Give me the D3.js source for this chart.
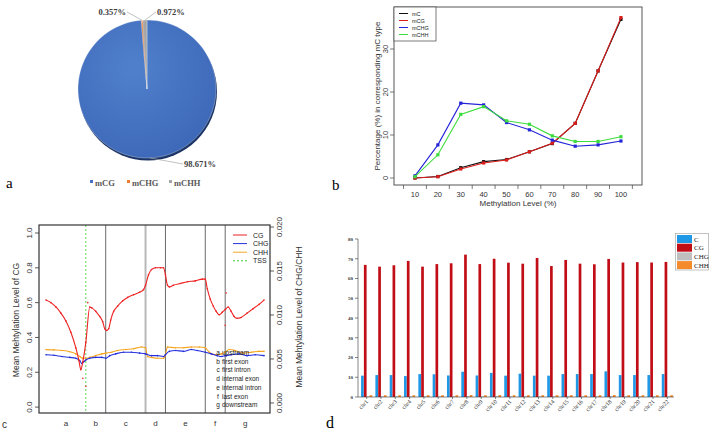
<!DOCTYPE html>
<html><head><meta charset="utf-8">
<script src="https://cdn.jsdelivr.net/npm/d3@7"></script>
<style>body{margin:0;background:#fff} svg{display:block}</style>
</head><body>
<svg id="fig" width="711" height="431"></svg>
<script>
// ---------- data ----------
// a: share of methylated C by context (%)
var pieLabels = ['mCG', 'mCHG', 'mCHH'];
var pieValues = [98.671, 0.357, 0.972];

// b: percentage per methylation level bin
var levels = [10, 20, 30, 40, 50, 60, 70, 80, 90, 100];
var bSeries = ['mC', 'mCG', 'mCHG', 'mCHH'];
var mC   = [0.0, 0.35, 2.4, 3.8, 4.3, 6.1, 8.0, 12.7, 24.9, 36.9];
var mCG  = [0.0, 0.3, 2.1, 3.5, 4.2, 6.1, 8.1, 12.7, 24.9, 37.3];
var mCHG = [0.5, 7.7, 17.4, 17.0, 12.9, 11.2, 8.8, 7.4, 7.7, 8.6];
var mCHH = [0.3, 5.4, 14.8, 16.6, 13.3, 12.5, 9.8, 8.5, 8.5, 9.6];

// c: methylation over gene regions (position in bins, value)
var regions = ['a', 'b', 'c', 'd', 'e', 'f', 'g'];
var regionNames = ['upstream', 'first exon', 'first intron', 'internal exon', 'internal intron', 'last exon', 'downstream'];
var regionBreaks = [0, 40, 60, 100, 120, 160, 180, 220];
var cgLine = [[0,0.615],[5,0.60],[10,0.575],[15,0.54],[20,0.495],[25,0.43],[30,0.34],[33,0.27],[35,0.215],[37,0.26],[40,0.37],[44,0.575],
  [46,0.57],[50,0.55],[54,0.52],[57,0.49],[59,0.45],[61,0.44],[63,0.45],[65,0.50],[68,0.55],[72,0.58],[77,0.61],[82,0.63],[88,0.645],
  [94,0.66],[98,0.675],[100,0.70],[103,0.76],[106,0.79],[110,0.80],[115,0.80],[118,0.80],[120,0.76],[122,0.70],[124,0.69],[128,0.70],
  [135,0.71],[142,0.72],[150,0.725],[157,0.735],[160,0.735],[162,0.68],[165,0.62],[168,0.58],[171,0.55],[174,0.53],[177,0.545],
  [180,0.56],[183,0.575],[186,0.55],[189,0.52],[192,0.51],[196,0.515],[202,0.54],[208,0.565],[214,0.59],[219,0.615]];
var cgOutliers = [[37,0.165],[40,0.12],[42,0.60],[180,0.47],[181,0.655]];
var chgLine = [[0,0.00548],[8,0.00542],[16,0.00528],[24,0.00518],[30,0.00508],[34,0.00479],[36,0.00449],[38,0.00469],[40,0.00488],
  [44,0.00508],[50,0.00518],[56,0.00518],[60,0.00508],[64,0.00538],[70,0.00558],[78,0.00577],[86,0.00577],[94,0.00567],[100,0.00558],
  [106,0.00538],[112,0.00538],[118,0.00528],[120,0.00548],[124,0.00587],[130,0.00597],[138,0.00587],[146,0.00607],[152,0.00597],
  [160,0.00577],[166,0.00558],[172,0.00538],[176,0.00528],[180,0.00538],[186,0.00548],[194,0.00558],[202,0.00538],[210,0.00548],[219,0.00538]];
var chhLine = [[0,0.00607],[8,0.00603],[16,0.00597],[24,0.00583],[30,0.00558],[34,0.00528],[37,0.00508],[40,0.00508],[44,0.00518],
  [50,0.00538],[56,0.00558],[60,0.00567],[66,0.00577],[72,0.00597],[80,0.00607],[88,0.00617],[96,0.00637],[100,0.00627],[102,0.00528],
  [106,0.00518],[112,0.00508],[118,0.00508],[120,0.00548],[122,0.00637],[130,0.00627],[138,0.00627],[146,0.00637],[154,0.00637],
  [160,0.00627],[164,0.00577],[170,0.00548],[176,0.00558],[180,0.00577],[184,0.00607],[190,0.00597],[198,0.00567],[206,0.00577],
  [214,0.00587],[219,0.00587]];

// d: per-chromosome methylation level (%)
var chrs = ['chr1','chr2','chr3','chr4','chr5','chr6','chr7','chr8','chr9','chr10','chr11','chr12','chr13','chr14','chr15','chr16',
  'chr17','chr18','chr19','chr20','chr21','chr22'];
var dSeries = ['C', 'CG', 'CHG', 'CHH'];
var chrC   = [10.8, 11.1, 11.1, 10.6, 11.6, 11.5, 10.9, 12.8, 10.9, 12.2, 10.8, 11.8, 10.8, 10.8, 11.6, 11.6, 11.6, 13.0, 11.1, 11.1, 11.1, 11.6];
var chrCG  = [66.9, 66.0, 66.7, 68.9, 66.0, 67.3, 67.7, 72.1, 67.3, 70.0, 68.0, 67.5, 70.4, 66.3, 69.4, 67.5, 67.2, 69.9, 68.1, 68.3, 68.1, 68.4];
var chrCHG = [0.4, 0.4, 0.4, 0.4, 0.4, 0.4, 0.4, 0.5, 0.4, 0.5, 0.4, 0.4, 0.4, 0.4, 0.4, 0.4, 0.4, 0.5, 0.4, 0.4, 0.4, 0.4];
var chrCHH = [0.9, 0.9, 0.9, 0.9, 0.9, 0.9, 0.9, 1.0, 0.9, 1.0, 0.9, 0.9, 0.9, 0.9, 0.9, 0.9, 0.9, 1.0, 0.9, 0.9, 0.9, 0.9];

var svg = d3.select('#fig');
svg.append('rect').attr('width', 711).attr('height', 431).attr('fill', '#fff');
var serif = '"Liberation Serif", "DejaVu Serif", serif';
var sans = '"Liberation Sans", Arial, sans-serif';

// ---------- a: pie ----------
var pa = svg.append('g');
var pieColors = ['#4472C4', '#ED7D31', '#A5A5A5'];
var cx = 147, cy = 89, rad = 69;
var grad = svg.append('defs').append('radialGradient').attr('id', 'pg').attr('cx', '40%').attr('cy', '35%').attr('r', '70%');
grad.append('stop').attr('offset', '0%').attr('stop-color', '#5080cc');
grad.append('stop').attr('offset', '100%').attr('stop-color', '#3d68b8');
pa.append('ellipse').attr('cx', cx + 1).attr('cy', cy + 2.5).attr('rx', rad).attr('ry', rad).attr('fill', '#1c3566');
var arcs = d3.pie().sort(null).value(function(d) { return d; })(pieValues);
var arc = d3.arc().innerRadius(0).outerRadius(rad);
var edge = d3.arc().innerRadius(rad).outerRadius(rad);
pa.selectAll('path.sl').data(arcs).join('path')
  .attr('transform', 'translate(' + cx + ',' + cy + ')')
  .attr('d', arc)
  .attr('fill', function(d, i) { return i === 0 ? 'url(#pg)' : pieColors[i]; })
  .attr('stroke', '#fff').attr('stroke-width', 0.3);
// data labels
var labelPos = [[200, 166, 'start'], [126, 14, 'end'], [157, 14, 'start']];
arcs.forEach(function(d, i) {
  var c = edge.centroid(d);
  var lp = labelPos[i];
  pa.append('line').attr('x1', cx + c[0]).attr('y1', cy + c[1])
    .attr('x2', i === 0 ? 183 : lp[0] + (i === 1 ? 1 : -1)).attr('y2', i === 0 ? 164 : lp[1] - 2)
    .attr('stroke', '#a6a6a6').attr('stroke-width', 0.7);
  pa.append('text').attr('x', i === 0 ? 184 : lp[0]).attr('y', lp[1] + 1)
    .attr('text-anchor', i === 0 ? 'start' : lp[2])
    .attr('font-family', serif).attr('font-weight', 'bold').attr('font-size', 8.5).attr('fill', '#404040')
    .text(d3.format('.3f')(pieValues[i]) + '%');
});
var legX = [90, 127, 169];
pieLabels.forEach(function(l, i) {
  pa.append('rect').attr('x', legX[i]).attr('y', 180).attr('width', 3).attr('height', 3).attr('fill', pieColors[i]);
  pa.append('text').attr('x', legX[i] + 5).attr('y', 185.5).attr('font-family', serif).attr('font-weight', 'bold')
    .attr('font-size', 8.5).attr('fill', '#595959').text(l);
});
svg.append('text').attr('x', 6).attr('y', 188).attr('font-family', serif).attr('font-size', 15).text('a');

// ---------- b: line chart ----------
var pb = svg.append('g');
var xb = d3.scaleLinear().domain([0.83, 109.2]).range([394, 642]);
var yb = d3.scaleLinear().domain([-1.63, 39.77]).range([185, 7]);
pb.append('rect').attr('x', 394).attr('y', 7).attr('width', 248).attr('height', 178)
  .attr('fill', 'none').attr('stroke', '#444').attr('stroke-width', 0.9);
var xTicksB = [5, 15, 25, 35, 45, 55, 65, 75, 85, 95, 105];
pb.selectAll('line.xt').data(xTicksB).join('line')
  .attr('x1', xb).attr('x2', xb).attr('y1', 185).attr('y2', 189).attr('stroke', '#444').attr('stroke-width', 0.7);
pb.selectAll('text.xl').data(levels).join('text')
  .attr('x', xb).attr('y', 197).attr('text-anchor', 'middle')
  .attr('font-family', sans).attr('font-size', 7.5).attr('fill', '#333').text(function(d) { return d; });
var yTicksB = [0, 10, 20, 30];
pb.selectAll('line.yt').data(yTicksB).join('line')
  .attr('x1', 390).attr('x2', 394).attr('y1', yb).attr('y2', yb).attr('stroke', '#444').attr('stroke-width', 0.7);
pb.selectAll('text.yl').data(yTicksB).join('text')
  .attr('transform', function(d) { return 'translate(388,' + yb(d) + ') rotate(-90)'; })
  .attr('text-anchor', 'middle').attr('font-family', sans).attr('font-size', 7.5).attr('fill', '#333')
  .text(function(d) { return d; });
pb.append('text').attr('x', 518).attr('y', 206).attr('text-anchor', 'middle')
  .attr('font-family', sans).attr('font-size', 8).attr('fill', '#333').text('Methylation Level (%)');
pb.append('text').attr('transform', 'translate(380,96) rotate(-90)').attr('text-anchor', 'middle')
  .attr('font-family', sans).attr('font-size', 8).attr('fill', '#333').text('Percentage (%) in corresponding mC type');
var bColors = ['#111', '#dd1c1c', '#2424d8', '#3cdc3c'];
var bData = [mC, mCG, mCHG, mCHH];
var lineB = d3.line().x(function(d, i) { return xb(levels[i]); }).y(function(d) { return yb(d); });
bData.forEach(function(s, k) {
  pb.append('path').attr('d', lineB(s)).attr('fill', 'none').attr('stroke', bColors[k]).attr('stroke-width', 1.1);
  pb.selectAll('rect.m' + k).data(s).join('rect')
    .attr('x', function(d, i) { return xb(levels[i]) - 1.6; }).attr('y', function(d) { return yb(d) - 1.6; })
    .attr('width', 3.2).attr('height', 3.2).attr('fill', bColors[k]);
});
pb.append('rect').attr('x', 394).attr('y', 7).attr('width', 42).attr('height', 34)
  .attr('fill', '#fff').attr('stroke', '#444').attr('stroke-width', 0.7);
bSeries.forEach(function(n, k) {
  var yy = 13.5 + k * 7;
  pb.append('line').attr('x1', 399).attr('x2', 408).attr('y1', yy).attr('y2', yy).attr('stroke', bColors[k]).attr('stroke-width', 1);
  pb.append('text').attr('x', 412).attr('y', yy + 2).attr('font-family', sans).attr('font-size', 5.5).attr('fill', '#222').text(n);
});
svg.append('text').attr('x', 332).attr('y', 190).attr('font-family', serif).attr('font-size', 15).text('b');

// ---------- c: gene-region profile ----------
var pc = svg.append('g');
var xc = d3.scaleLinear().domain([-7, 225]).range([39, 270]);
var ycL = d3.scaleLinear().domain([-0.034, 1.046]).range([413, 225]);
var ycR = d3.scaleLinear().domain([-0.00114, 0.02023]).range([413, 225]);
regionBreaks.slice(2, 7).forEach(function(b) {
  pc.append('line').attr('x1', xc(b)).attr('x2', xc(b)).attr('y1', 225).attr('y2', 413)
    .attr('stroke', b === 100 ? '#b8b8b8' : '#6a6a6a').attr('stroke-width', b === 100 ? 2 : 1);
});
pc.append('line').attr('x1', xc(regionBreaks[1])).attr('x2', xc(regionBreaks[1])).attr('y1', 225).attr('y2', 413)
  .attr('stroke', '#33cc33').attr('stroke-width', 0.8).attr('stroke-dasharray', '2,2');
var curve = d3.line().curve(d3.curveMonotoneX).x(function(d) { return xc(d[0]); });
var cSets = [[chhLine, ycR, '#f5a623'], [chgLine, ycR, '#2430dd'], [cgLine, ycL, '#ee2222']];
cSets.forEach(function(s) {
  var y = s[1];
  pc.append('path').attr('d', curve.y(function(d) { return y(d[1]); })(s[0]))
    .attr('fill', 'none').attr('stroke', s[2]).attr('stroke-width', 1.1);
  pc.selectAll(null).data(s[0]).join('circle')
    .attr('cx', function(d) { return xc(d[0]); }).attr('cy', function(d) { return y(d[1]); })
    .attr('r', 0.8).attr('fill', s[2]);
});
pc.selectAll(null).data(cgOutliers).join('circle')
  .attr('cx', function(d) { return xc(d[0]); }).attr('cy', function(d) { return ycL(d[1]); })
  .attr('r', 0.8).attr('fill', '#ee2222');
pc.append('rect').attr('x', 39).attr('y', 225).attr('width', 231).attr('height', 188)
  .attr('fill', 'none').attr('stroke', '#333').attr('stroke-width', 1.2);
var yTicksL = [0, 0.2, 0.4, 0.6, 0.8, 1.0];
pc.selectAll('line.lt').data(yTicksL).join('line')
  .attr('x1', 35).attr('x2', 39).attr('y1', ycL).attr('y2', ycL).attr('stroke', '#333').attr('stroke-width', 0.8);
pc.selectAll('text.ll').data(yTicksL).join('text')
  .attr('transform', function(d) { return 'translate(32,' + ycL(d) + ') rotate(-90)'; })
  .attr('text-anchor', 'middle').attr('font-family', sans).attr('font-size', 8).attr('fill', '#333')
  .text(d3.format('.1f'));
var yTicksR = [0, 0.005, 0.01, 0.015, 0.02];
pc.selectAll('line.rt').data(yTicksR).join('line')
  .attr('x1', 270).attr('x2', 274).attr('y1', ycR).attr('y2', ycR).attr('stroke', '#333').attr('stroke-width', 0.8);
pc.selectAll('text.rl').data(yTicksR).join('text')
  .attr('transform', function(d) { return 'translate(282,' + ycR(d) + ') rotate(-90)'; })
  .attr('text-anchor', 'middle').attr('font-family', sans).attr('font-size', 8).attr('fill', '#333')
  .text(d3.format('.3f'));
pc.append('text').attr('transform', 'translate(19,320) rotate(-90)').attr('text-anchor', 'middle')
  .attr('font-family', sans).attr('font-size', 8.5).attr('fill', '#333').text('Mean Mehtylation Level of CG');
pc.append('text').attr('transform', 'translate(302,317) rotate(-90)').attr('text-anchor', 'middle')
  .attr('font-family', sans).attr('font-size', 8.5).attr('fill', '#333').text('Mean Mehtylation Level of CHG/CHH');
regions.forEach(function(r, i) {
  pc.append('text').attr('x', xc((regionBreaks[i] + regionBreaks[i + 1]) / 2)).attr('y', 426)
    .attr('text-anchor', 'middle').attr('font-family', sans).attr('font-size', 8).attr('fill', '#333').text(r);
  pc.append('text').attr('x', 218).attr('y', 355 + i * 8.7).attr('text-anchor', 'middle')
    .attr('font-family', sans).attr('font-size', 6.5).attr('fill', '#222').text(r);
  pc.append('text').attr('x', 222).attr('y', 355 + i * 8.7)
    .attr('font-family', sans).attr('font-size', 6.5).attr('fill', '#222').text(regionNames[i]);
});
var cLegend = [['CG', '#ee2222', null], ['CHG', '#2430dd', null], ['CHH', '#f5a623', null], ['TSS', '#33cc33', '2,2']];
cLegend.forEach(function(l, i) {
  var yy = 235 + i * 8.6;
  pc.append('line').attr('x1', 233).attr('x2', 247).attr('y1', yy).attr('y2', yy)
    .attr('stroke', l[1]).attr('stroke-width', 1).attr('stroke-dasharray', l[2]);
  pc.append('text').attr('x', 253).attr('y', yy + 2.5).attr('font-family', sans).attr('font-size', 7)
    .attr('fill', '#222').text(l[0]);
});
svg.append('text').attr('x', 2).attr('y', 428).attr('font-family', sans).attr('font-size', 10).attr('fill', '#333').text('c');

// ---------- d: per-chromosome bars ----------
var pd = svg.append('g');
var xd = d3.scaleBand().domain(chrs).range([359.5, 674.5]).paddingInner(0.2).paddingOuter(0.1);
var xs = d3.scaleBand().domain(dSeries).range([0, xd.bandwidth()]).padding(0.05);
var yd = d3.scaleLinear().domain([0, 80]).range([397, 239]);
var dColors = ['#1f98e6', '#c00d16', '#bfbfbf', '#f58a2a'];
var dData = [chrC, chrCG, chrCHG, chrCHH];
dData.forEach(function(s, k) {
  pd.selectAll(null).data(s).join('rect')
    .attr('x', function(d, i) { return xd(chrs[i]) + xs(dSeries[k]); })
    .attr('y', function(d) { return yd(d); })
    .attr('width', xs.bandwidth())
    .attr('height', function(d) { return yd(0) - yd(d); })
    .attr('fill', dColors[k]);
});
pd.append('line').attr('x1', 358).attr('x2', 674).attr('y1', 397).attr('y2', 397).attr('stroke', '#333').attr('stroke-width', 0.6);
pd.append('line').attr('x1', 358).attr('x2', 358).attr('y1', 239).attr('y2', 397).attr('stroke', '#333').attr('stroke-width', 0.6);
pd.selectAll('line.dx').data(chrs).join('line')
  .attr('x1', function(d) { return xd(d) + xd.bandwidth() / 2; }).attr('x2', function(d) { return xd(d) + xd.bandwidth() / 2; })
  .attr('y1', 397).attr('y2', 399).attr('stroke', '#333').attr('stroke-width', 0.6);
pd.selectAll('text.dl').data(chrs).join('text')
  .attr('transform', function(d) { return 'translate(' + (xd(d) + xd.bandwidth() / 2 + 2) + ',402) rotate(-45)'; })
  .attr('text-anchor', 'end').attr('font-family', serif).attr('font-size', 6).attr('fill', '#333').text(function(d) { return d; });
var yTicksD = d3.range(0, 81, 10);
pd.selectAll('line.dy').data(yTicksD).join('line')
  .attr('x1', 355).attr('x2', 358).attr('y1', yd).attr('y2', yd).attr('stroke', '#333').attr('stroke-width', 0.6);
pd.selectAll('text.dy').data(yTicksD).join('text')
  .attr('x', 353).attr('y', function(d) { return yd(d) + 1.8; }).attr('text-anchor', 'end')
  .attr('font-family', serif).attr('font-weight', 'bold').attr('font-size', 5).attr('fill', '#333').text(function(d) { return d; });
pd.append('rect').attr('x', 675.5).attr('y', 233.5).attr('width', 33).attr('height', 36.5)
  .attr('fill', '#fff').attr('stroke', '#999').attr('stroke-width', 0.6);
dSeries.forEach(function(n, k) {
  pd.append('rect').attr('x', 677).attr('y', 235 + k * 8.7).attr('width', 15).attr('height', 8).attr('fill', dColors[k]);
  pd.append('text').attr('x', 694).attr('y', 241.5 + k * 8.7).attr('font-family', serif).attr('font-size', 7)
    .attr('fill', '#222').text(n);
});
svg.append('text').attr('x', 326).attr('y', 428).attr('font-family', serif).attr('font-size', 16).text('d');
</script>
</body></html>
